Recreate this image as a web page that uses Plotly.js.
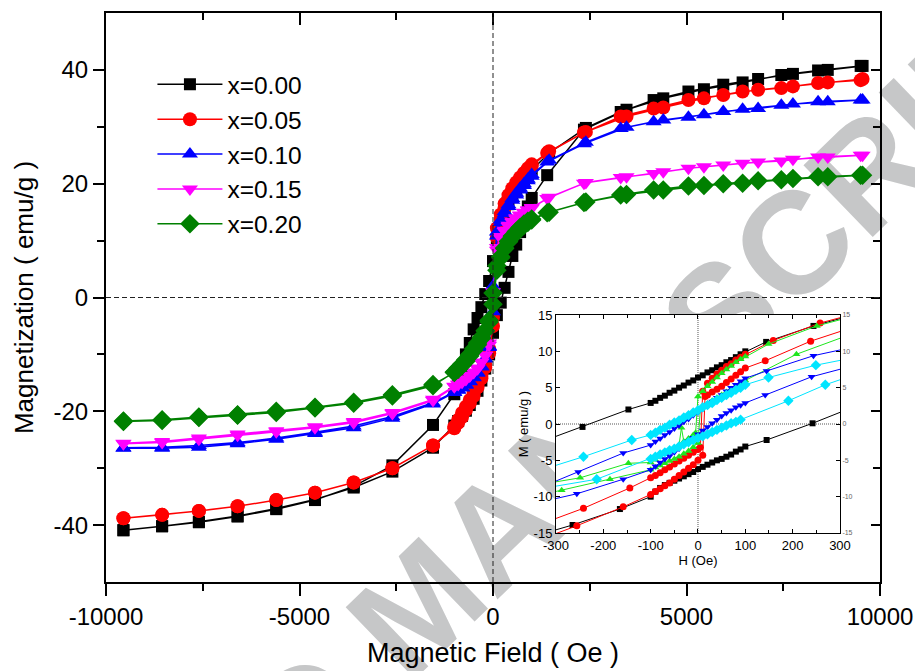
<!DOCTYPE html>
<html>
<head>
<meta charset="utf-8">
<script src="https://cdn.plot.ly/plotly-3.0.1.min.js"></script>
<style>html,body{margin:0;padding:0;background:#fff;}#chart{width:915px;height:671px;}</style>
</head>
<body>
<div id="chart"></div>
<script>
// ---------- Main plot data ----------
const seriesNames = ['x=0.00', 'x=0.05', 'x=0.10', 'x=0.15', 'x=0.20'];

const mainDescH = [9550, 8650, 7750, 6850, 5950, 5050, 4150, 3300, 2400, 1450, 1000, 900, 800, 700, 600, 500, 400, 300, 200, 100, 0, -100, -200, -300, -400, -500, -600, -700, -800, -900, -1000, -1550, -2600, -3600, -4600, -5600, -6600, -7600, -8550, -9550];
const mainAscH = [-9550, -8550, -7600, -6600, -5600, -4600, -3600, -2600, -1550, -1000, -900, -800, -700, -600, -500, -400, -300, -200, -100, 0, 100, 200, 300, 400, 500, 600, 700, 800, 900, 1000, 1400, 2350, 3450, 4400, 5450, 6450, 7450, 8400, 9500];

const blackDescM = [40.7, 40.0, 39.3, 38.4, 37.4, 36.2, 34.7, 32.6, 29.8, 25.4, 22.5, 21.7, 20.8, 19.9, 18.9, 17.8, 16.4, 14.8, 12.6, 10.0, 6.4, 2.9, 0.6, -1.7, -3.6, -5.6, -8.0, -10.0, -12.0, -14.2, -17.0, -22.4, -29.5, -33.2, -35.6, -37.2, -38.5, -39.5, -40.2, -40.9];
const blackAscM = [-40.9, -40.2, -39.4, -38.4, -37.1, -35.5, -33.4, -30.6, -26.4, -22.5, -21.7, -20.8, -19.9, -18.9, -17.8, -16.4, -14.6, -12.5, -10.0, -6.2, -3.1, -0.9, 1.7, 4.5, 7.3, 9.3, 11.5, 13.6, 16.0, 17.5, 21.5, 29.5, 33.0, 35.0, 36.6, 37.8, 39.1, 39.9, 40.7];

const redDescM = [38.4, 37.8, 37.1, 36.5, 35.6, 34.7, 33.2, 31.8, 29.1, 25.7, 23.4, 22.7, 21.9, 21.1, 20.2, 19.2, 18.0, 16.5, 14.6, 12.2, -3.5, -9.0, -11.8, -13.6, -15.3, -16.8, -18.0, -19.2, -20.3, -21.5, -22.7, -26.0, -30.0, -32.5, -34.3, -35.6, -36.7, -37.5, -38.2, -38.8];
const redAscM = [-38.8, -38.2, -37.5, -36.7, -35.6, -34.3, -32.5, -30.0, -26.0, -23.0, -22.0, -21.0, -19.8, -18.6, -17.3, -15.8, -14.2, -12.3, -9.8, -5.0, 10.5, 13.8, 15.8, 17.5, 18.8, 19.8, 20.8, 21.7, 22.4, 23.1, 25.4, 29.0, 31.8, 33.4, 35.0, 36.2, 36.8, 37.7, 38.2];

const blueDescM = [34.7, 34.4, 34.0, 33.2, 32.7, 31.7, 30.9, 29.7, 27.3, 24.1, 21.6, 20.8, 20.0, 19.2, 18.3, 17.4, 16.3, 15.1, 13.6, 11.5, 2.0, -8.6, -10.8, -12.2, -13.3, -14.1, -14.8, -15.4, -15.9, -16.3, -16.7, -18.7, -21.2, -22.9, -23.9, -24.9, -25.7, -26.3, -26.5, -26.5];
const blueAscM = [-26.4, -26.3, -26.0, -25.5, -24.7, -23.7, -22.6, -20.9, -18.5, -16.6, -16.2, -15.8, -15.3, -14.7, -14.0, -13.2, -12.1, -10.7, -8.8, -2.5, 10.8, 13.2, 14.7, 16.0, 17.1, 18.0, 18.9, 19.7, 20.5, 21.3, 23.8, 27.0, 29.9, 31.2, 32.1, 33.1, 33.8, 34.4, 34.7];

const magentaDescM = [25.0, 24.7, 24.3, 23.8, 23.3, 22.7, 21.8, 21.1, 20.2, 17.6, 15.8, 15.4, 15.0, 14.5, 14.0, 13.4, 12.7, 11.8, 10.7, 8.8, 1.0, -8.0, -10.1, -11.4, -12.5, -13.2, -13.8, -14.4, -14.9, -15.3, -15.7, -18.1, -20.4, -22.0, -22.9, -23.6, -24.2, -24.9, -25.5, -25.7];
const magentaAscM = [-25.6, -25.3, -24.7, -24.0, -23.4, -22.7, -21.8, -20.2, -17.9, -15.6, -15.2, -14.8, -14.3, -13.7, -13.1, -12.4, -11.4, -10.2, -8.4, -1.5, 8.3, 10.4, 11.6, 12.5, 13.2, 13.8, 14.4, 14.9, 15.3, 15.7, 17.4, 20.1, 21.2, 22.1, 23.0, 23.6, 24.0, 24.7, 25.0];

const greenDescM = [21.5, 21.2, 20.9, 20.5, 20.0, 19.6, 18.9, 18.0, 16.8, 15.0, 13.8, 13.4, 12.9, 12.3, 11.6, 10.8, 9.9, 8.7, 7.2, 5.6, 0.8, -4.0, -5.8, -7.0, -8.0, -9.0, -10.0, -10.9, -11.7, -12.4, -13.1, -15.5, -17.3, -18.6, -19.4, -20.2, -20.7, -21.1, -21.6, -21.8];
const greenAscM = [-21.7, -21.5, -21.0, -20.6, -20.0, -19.3, -18.4, -17.1, -15.3, -13.2, -12.6, -11.9, -11.2, -10.3, -9.3, -8.3, -7.2, -5.9, -4.3, -1.2, 4.8, 7.0, 8.6, 9.8, 10.7, 11.4, 12.1, 12.7, 13.2, 13.6, 14.9, 16.7, 18.1, 18.9, 19.7, 20.1, 20.7, 21.2, 21.5];

const xTickVals = [-10000, -5000, 0, 5000, 10000];
const xTickText = ['-10000', '-5000', '0', '5000', '10000'];
const xMinorVals = [-7500, -2500, 2500, 7500];
const yTickVals = [-40, -20, 0, 20, 40];
const yTickText = ['-40', '-20', '0', '20', '40'];
const yMinorVals = [-30, -10, 10, 30];

// ---------- Inset data (low field loops) ----------
const inBlkDescH = [350, 244, 144, 100, 90, 80, 70, 60, 50, 40, 30, 20, 10, 0, -10, -20, -30, -40, -50, -60, -70, -80, -90, -100, -147, -244, -350];
const inBlkDescM = [15.4, 13.5, 11.3, 10.0, 9.6, 9.2, 8.8, 8.5, 8.1, 7.8, 7.4, 7.1, 6.7, 6.4, 6.0, 5.7, 5.3, 5.0, 4.6, 4.3, 3.9, 3.6, 3.2, 2.9, 2.0, -0.4, -2.9];
const inBlkAscH = [-350, -265, -165, -100, -90, -80, -70, -60, -50, -40, -30, -20, -10, 0, 10, 20, 30, 40, 50, 60, 70, 80, 90, 100, 145, 242, 350];
const inBlkAscM = [-15.5, -13.9, -11.7, -10.0, -9.3, -8.8, -8.4, -8.1, -7.8, -7.5, -7.2, -6.9, -6.6, -6.2, -5.9, -5.6, -5.3, -5.0, -4.8, -4.5, -4.2, -3.8, -3.5, -3.1, -2.2, 0.1, 2.9];

const inRedDescH = [350, 258, 159, 100, 90, 80, 70, 60, 50, 40, 30, 20, 10, 5, 0, -10, -20, -30, -40, -50, -60, -70, -80, -90, -100, -144, -242, -350];
const inRedDescM = [15.5, 13.9, 11.5, 9.6, 9.2, 8.8, 8.3, 7.9, 7.4, 6.9, 6.3, 5.6, 4.5, -3.2, -3.5, -3.9, -4.3, -4.7, -5.1, -5.5, -5.9, -6.3, -6.7, -7.1, -7.4, -8.8, -11.6, -14.2];
const inRedAscH = [-350, -256, -158, -100, -90, -80, -70, -60, -50, -40, -30, -20, -10, 0, 10, 15, 20, 30, 40, 50, 60, 70, 80, 90, 100, 142, 238, 350];
const inRedAscM = [-16.3, -14.0, -11.4, -9.7, -9.3, -8.9, -8.5, -8.1, -7.6, -7.1, -6.6, -6.1, -5.6, -5.0, -4.3, 3.8, 4.0, 4.4, 4.8, 5.2, 5.7, 6.2, 6.7, 7.2, 7.7, 8.7, 11.4, 13.8];

const inGrnDescH = [350, 251, 149, 100, 90, 80, 70, 60, 50, 40, 30, 20, 10, 0, -5, -10, -20, -30, -35, -40, -50, -60, -70, -80, -90, -100, -147, -249, -350];
const inGrnDescM = [15.2, 13.5, 11.0, 9.3, 8.9, 8.5, 8.0, 7.5, 7.0, 6.4, 5.8, 5.2, 4.5, 3.8, -1.2, -1.5, -2.0, -2.4, -0.5, -2.9, -3.3, -3.7, -4.1, -4.5, -4.9, -5.3, -5.4, -7.4, -8.5];
const inGrnAscH = [-350, -288, -186, -100, -90, -80, -70, -60, -50, -40, -30, -20, -10, 0, 5, 10, 20, 30, 40, 50, 60, 70, 80, 90, 100, 208, 350];
const inGrnAscM = [-10.0, -9.1, -7.6, -6.3, -6.0, -5.7, -5.4, -5.1, -4.8, -4.5, -4.1, -3.7, -3.2, -2.6, 2.0, 2.4, 2.8, 3.2, 3.6, 4.0, 4.4, 4.8, 5.2, 5.6, 6.0, 9.6, 13.0];

const inBluDescH = [350, 244, 145, 100, 90, 80, 70, 60, 50, 40, 30, 20, 10, 0, -10, -20, -30, -40, -50, -60, -70, -80, -90, -100, -158, -253, -350];
const inBluDescM = [10.9, 9.4, 7.3, 6.3, 5.9, 5.4, 5.0, 4.5, 4.0, 3.6, 3.1, 2.6, 2.1, 1.6, 1.2, 0.7, 0.3, -0.2, -0.6, -1.1, -1.5, -2.0, -2.4, -2.9, -4.0, -6.6, -9.2];
const inBluAscH = [-350, -256, -158, -100, -90, -80, -70, -60, -50, -40, -30, -20, -10, 0, 10, 20, 30, 40, 50, 60, 70, 80, 90, 100, 142, 240, 350];
const inBluAscM = [-11.0, -9.6, -7.6, -6.3, -5.8, -5.3, -4.8, -4.4, -3.9, -3.4, -2.9, -2.4, -1.9, -1.4, -0.9, -0.4, 0.1, 0.6, 1.1, 1.5, 1.9, 2.3, 2.6, 2.9, 4.0, 6.5, 8.4];

const inCynDescH = [350, 249, 149, 100, 90, 80, 70, 60, 50, 40, 30, 20, 10, 0, -10, -20, -30, -40, -50, -60, -70, -80, -90, -100, -140, -242, -350];
const inCynDescM = [9.4, 8.1, 6.4, 5.4, 5.0, 4.7, 4.3, 4.0, 3.6, 3.3, 2.9, 2.6, 2.3, 1.9, 1.6, 1.2, 0.9, 0.5, 0.2, -0.1, -0.5, -0.8, -1.2, -1.5, -2.2, -4.5, -6.7];
const inCynAscH = [-350, -214, -100, -90, -80, -70, -60, -50, -40, -30, -20, -10, 0, 10, 20, 30, 40, 50, 60, 70, 80, 90, 191, 269, 350];
const inCynAscM = [-9.1, -7.6, -4.8, -4.5, -4.2, -3.9, -3.6, -3.4, -3.1, -2.8, -2.5, -2.2, -1.9, -1.7, -1.4, -1.1, -0.8, -0.5, -0.2, 0.1, 0.3, 0.6, 3.2, 5.4, 7.2];

const inXTickVals = [-300, -200, -100, 0, 100, 200, 300];
const inXTickText = ['-300', '-200', '-100', '0', '100', '200', '300'];
const inXMinorVals = [-250, -150, -50, 50, 150, 250];
const inYTickVals = [-15, -10, -5, 0, 5, 10, 15];
const inYTickText = ['-15', '-10', '-5', '0', '5', '10', '15'];

// ---------- Build traces ----------
const FONT = 'Liberation Sans, Arial, Helvetica, sans-serif';
const mainStyles = [
  {color: '#000000', symbol: 'square', size: 12},
  {color: '#ff0000', symbol: 'circle', size: 14},
  {color: '#0000ff', symbol: 'triangle-up', size: 14},
  {color: '#ff00ff', symbol: 'triangle-down', size: 14},
  {color: '#008000', symbol: 'diamond', size: 15}
];
const mainDesc = [blackDescM, redDescM, blueDescM, magentaDescM, greenDescM];
const mainAsc = [blackAscM, redAscM, blueAscM, magentaAscM, greenAscM];

const traces = [];
seriesNames.forEach((name, i) => {
  const st = mainStyles[i];
  traces.push({
    type: 'scatter', mode: 'lines+markers', name: name,
    x: mainDescH.concat(mainAscH),
    y: mainDesc[i].concat(mainAsc[i]),
    xaxis: 'x', yaxis: 'y',
    line: {color: st.color, width: 1.5},
    marker: {color: st.color, symbol: st.symbol, size: st.size, line: {width: 0}},
    hoverinfo: 'skip'
  });
});

const insetStyles = [
  {color: '#000000', symbol: 'square', size: 6, dH: inBlkDescH, dM: inBlkDescM, aH: inBlkAscH, aM: inBlkAscM},
  {color: '#ff0000', symbol: 'circle', size: 7, dH: inRedDescH, dM: inRedDescM, aH: inRedAscH, aM: inRedAscM},
  {color: '#1ee61e', symbol: 'triangle-up', size: 7, dH: inGrnDescH, dM: inGrnDescM, aH: inGrnAscH, aM: inGrnAscM},
  {color: '#0000ff', symbol: 'triangle-down', size: 7, dH: inBluDescH, dM: inBluDescM, aH: inBluAscH, aM: inBluAscM},
  {color: '#00e5ff', symbol: 'diamond', size: 8, dH: inCynDescH, dM: inCynDescM, aH: inCynAscH, aM: inCynAscM}
];
insetStyles.forEach(st => {
  traces.push({
    type: 'scatter', mode: 'lines+markers', showlegend: false,
    x: st.dH.concat(st.aH), y: st.dM.concat(st.aM),
    xaxis: 'x3', yaxis: 'y3',
    line: {color: st.color, width: 1},
    marker: {color: st.color, symbol: st.symbol, size: st.size, line: {width: 0}},
    hoverinfo: 'skip'
  });
});
// empty traces to register overlay (mirror) axes
traces.push({type: 'scatter', x: [], y: [], xaxis: 'x2', yaxis: 'y2', showlegend: false, hoverinfo: 'skip'});
traces.push({type: 'scatter', x: [], y: [], xaxis: 'x3', yaxis: 'y4', showlegend: false, hoverinfo: 'skip'});

const tickFont = {family: FONT, size: 24, color: '#000'};
const layout = {
  width: 915, height: 671,
  margin: {l: 106, r: 35, t: 13, b: 89, pad: 0},
  paper_bgcolor: '#ffffff', plot_bgcolor: '#ffffff',
  font: {family: FONT, color: '#000'},
  showlegend: true,
  hovermode: false,
  legend: {
    x: 0.06, y: 0.914, xanchor: 'left', yanchor: 'top',
    bgcolor: 'rgba(0,0,0,0)', borderwidth: 0,
    font: {family: FONT, size: 24.5, color: '#000'},
    itemwidth: 65, traceorder: 'normal'
  },
  xaxis: {
    domain: [0, 1], range: [-10000, 10000], anchor: 'y',
    tickmode: 'array', tickvals: xTickVals, ticktext: xTickText,
    ticks: 'outside', ticklen: 12, tickwidth: 2, tickcolor: '#000',
    minor: {tickmode: 'array', tickvals: xMinorVals, ticks: 'outside', ticklen: 7, tickwidth: 2, tickcolor: '#000', showgrid: false},
    showline: true, linewidth: 2, linecolor: '#000', showgrid: false, zeroline: false,
    tickfont: tickFont,
    title: {text: 'Magnetic Field ( Oe )', font: {family: FONT, size: 27, color: '#000'}, standoff: 14}
  },
  yaxis: {
    domain: [0, 1], range: [-50, 50], anchor: 'x',
    tickmode: 'array', tickvals: yTickVals, ticktext: yTickText,
    ticks: 'outside', ticklen: 11, tickwidth: 2, tickcolor: '#000',
    minor: {tickmode: 'array', tickvals: yMinorVals, ticks: 'outside', ticklen: 7, tickwidth: 2, tickcolor: '#000', showgrid: false},
    showline: true, linewidth: 2, linecolor: '#000', showgrid: false, zeroline: false,
    tickfont: tickFont,
    title: {text: 'Magnetization ( emu/g )', font: {family: FONT, size: 26, color: '#000'}, standoff: 12}
  },
  xaxis2: {
    overlaying: 'x', side: 'top', anchor: 'y', range: [-10000, 10000],
    tickmode: 'array', tickvals: xTickVals, showticklabels: false,
    ticks: 'inside', ticklen: 12, tickwidth: 2, tickcolor: '#000',
    minor: {tickmode: 'array', tickvals: xMinorVals, ticks: 'inside', ticklen: 7, tickwidth: 2, tickcolor: '#000', showgrid: false},
    showline: true, linewidth: 2, linecolor: '#000', showgrid: false, zeroline: false
  },
  yaxis2: {
    overlaying: 'y', side: 'right', anchor: 'x', range: [-50, 50],
    tickmode: 'array', tickvals: yTickVals, showticklabels: false,
    ticks: 'inside', ticklen: 9, tickwidth: 2, tickcolor: '#000',
    minor: {tickmode: 'array', tickvals: yMinorVals, ticks: 'inside', ticklen: 7, tickwidth: 2, tickcolor: '#000', showgrid: false},
    showline: true, linewidth: 2, linecolor: '#000', showgrid: false, zeroline: false
  },
  xaxis3: {
    domain: [0.5814, 0.9483], anchor: 'y3', range: [-300, 300],
    tickmode: 'array', tickvals: inXTickVals, ticktext: inXTickText,
    ticks: 'inside', ticklen: 4, tickwidth: 1, tickcolor: '#000', mirror: 'ticks',
    minor: {tickmode: 'array', tickvals: inXMinorVals, ticks: 'inside', ticklen: 3, tickwidth: 1, tickcolor: '#000', showgrid: false},
    showline: true, linewidth: 1, linecolor: '#000', showgrid: false, zeroline: false,
    tickfont: {family: FONT, size: 13, color: '#000'},
    title: {text: 'H (Oe)', font: {family: FONT, size: 13, color: '#000'}, standoff: 2}
  },
  yaxis3: {
    domain: [0.0861, 0.4692], anchor: 'x3', range: [-15, 15],
    tickmode: 'array', tickvals: inYTickVals, ticktext: inYTickText,
    ticks: 'inside', ticklen: 4, tickwidth: 1, tickcolor: '#000',
    showline: true, linewidth: 1, linecolor: '#000', showgrid: false, zeroline: false,
    tickfont: {family: FONT, size: 13, color: '#000'},
    title: {text: 'M ( emu/g )', font: {family: FONT, size: 13, color: '#000'}, standoff: 2}
  },
  yaxis4: {
    overlaying: 'y3', side: 'right', anchor: 'x3', range: [-15, 15],
    tickmode: 'array', tickvals: inYTickVals, ticktext: inYTickText,
    ticks: 'inside', ticklen: 4, tickwidth: 1, tickcolor: '#000',
    showline: true, linewidth: 1, linecolor: '#000', showgrid: false, zeroline: false,
    tickfont: {family: FONT, size: 7, color: '#666'}
  },
  shapes: [
    // watermark (drawn below the traces)
    {type: 'rect', xref: 'paper', yref: 'paper', x0: 0.386, x1: 0.399, y0: -0.030, y1: -0.016,
     layer: 'below', line: {width: 0}, fillcolor: 'rgba(0,0,0,0)',
     label: {text: 'ACCEPTED MANUSCRIPT', textposition: 'middle center', textangle: -44,
             font: {family: FONT, size: 145, color: '#c6c7c8', weight: 'bold'}}},
    // dashed zero lines of the main plot
    {type: 'line', xref: 'x', yref: 'paper', x0: 0, x1: 0, y0: 0, y1: 1, layer: 'above',
     line: {color: '#222', width: 1, dash: '5px,3px'}},
    {type: 'line', xref: 'paper', yref: 'y', x0: 0, x1: 1, y0: 0, y1: 0, layer: 'above',
     line: {color: '#222', width: 1, dash: '5px,3px'}},
    // dotted zero lines of the inset
    {type: 'line', xref: 'x3', yref: 'y3', x0: 0, x1: 0, y0: -15, y1: 15, layer: 'below',
     line: {color: '#555', width: 1, dash: '1px,1px'}},
    {type: 'line', xref: 'x3', yref: 'y3', x0: -300, x1: 300, y0: 0, y1: 0, layer: 'below',
     line: {color: '#555', width: 1, dash: '1px,1px'}}
  ]
};

Plotly.newPlot('chart', traces, layout, {staticPlot: true, displayModeBar: false});
</script>
</body>
</html>
